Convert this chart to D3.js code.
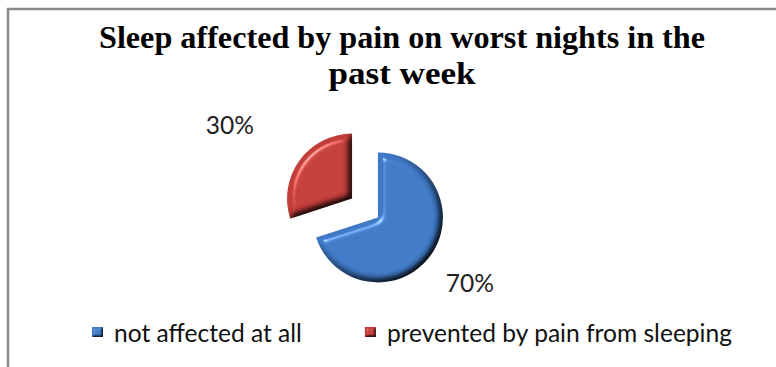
<!DOCTYPE html>
<html>
<head>
<meta charset="utf-8">
<script src="https://cdn.jsdelivr.net/npm/d3@7"></script>
<style>
  body { margin: 0; background: #fff; }
  svg { display: block; }
</style>
</head>
<body>
<svg id="chart"></svg>
<script>
// data
let categories = ['not affected at all', 'prevented by pain from sleeping']
let shares = [70, 30]
let shareLabels = ['70%', '30%']
let titleLines = ['Sleep affected by pain on worst nights in the', 'past week']

let opts = {
    width: 776,
    height: 367,
    titleX: 402,
    legendX: 412,
    pieX: 365,
    pieY: 208,
    radius: 65,
    explode: 16,
    colors: ['#3f78c4', '#c23e3b'],
    sansFont: 'Lato, "Open Sans", sans-serif',
    serifFont: '"Liberation Serif", "Times New Roman", serif'
}

let svg = d3.select('#chart')
    .attr('width', opts.width)
    .attr('height', opts.height)

// bevel look of the slices
let defs = svg.append('defs')
function bevel(id, blur, depth) {
    let f = defs.append('filter').attr('id', id)
        .attr('x', '-20%').attr('y', '-20%').attr('width', '140%').attr('height', '140%')
        .attr('color-interpolation-filters', 'sRGB')
    f.append('feGaussianBlur').attr('in', 'SourceAlpha').attr('stdDeviation', blur).attr('result', 'blur')
    f.append('feDiffuseLighting').attr('in', 'blur').attr('surfaceScale', depth)
        .attr('diffuseConstant', 1.22).attr('lighting-color', '#fff').attr('result', 'diff')
        .append('feDistantLight').attr('azimuth', 225).attr('elevation', 55)
    f.append('feComposite').attr('in', 'SourceGraphic').attr('in2', 'diff')
        .attr('operator', 'arithmetic').attr('k1', 1).attr('k2', 0).attr('k3', 0).attr('k4', 0)
        .attr('result', 'shaded')
    f.append('feSpecularLighting').attr('in', 'blur').attr('surfaceScale', depth)
        .attr('specularConstant', 0.45).attr('specularExponent', 70).attr('lighting-color', '#fff')
        .attr('result', 'spec')
        .append('feDistantLight').attr('azimuth', 225).attr('elevation', 55)
    f.append('feComposite').attr('in', 'spec').attr('in2', 'SourceAlpha').attr('operator', 'in').attr('result', 'specIn')
    f.append('feComposite').attr('in', 'shaded').attr('in2', 'specIn')
        .attr('operator', 'arithmetic').attr('k1', 0).attr('k2', 1).attr('k3', 1).attr('k4', 0)
}
bevel('bevel', 3.5, 5)
bevel('bevelSmall', 1, 2)

// frame (runs past the right and bottom edge like the crop)
svg.append('rect')
    .attr('x', 8).attr('y', 9)
    .attr('width', 900).attr('height', 500)
    .attr('fill', 'none')
    .attr('stroke', '#8a8a8a')
    .attr('stroke-width', 2.5)

// title, a tall condensed bold serif
let titleWidths = [606, 147]
svg.append('g').selectAll('text')
    .data(titleLines)
    .join('text')
    .attr('x', opts.titleX)
    .attr('y', (d, i) => 48 + i * 36)
    .attr('text-anchor', 'middle')
    .attr('font-family', opts.serifFont)
    .attr('font-weight', 'bold')
    .attr('font-size', 32)
    .attr('textLength', (d, i) => titleWidths[i])
    .attr('lengthAdjust', 'spacingAndGlyphs')
    .attr('fill', '#000')
    .text(d => d)

// pie
let pie = d3.pie().sort(null).value(d => d)
let arcs = pie(shares)
let arc = d3.arc().innerRadius(0).outerRadius(opts.radius)
let color = d3.scaleOrdinal().domain(categories).range(opts.colors)

function offset(d, dist) {
    let mid = (d.startAngle + d.endAngle) / 2
    return [Math.sin(mid) * dist, -Math.cos(mid) * dist]
}

let slices = svg.append('g')
    .attr('transform', `translate(${opts.pieX},${opts.pieY})`)
    .selectAll('g')
    .data(arcs)
    .join('g')
    .attr('transform', d => `translate(${offset(d, opts.explode)})`)

slices.append('path')
    .attr('d', arc)
    .attr('fill', (d, i) => color(categories[i]))
    .attr('filter', 'url(#bevel)')

// outside labels, placed beyond each slice along its middle angle
let labelDist = [1.75, 2.19]
let labelNudge = [[0, 0], [-7, 11]]
slices.append('text')
    .attr('x', (d, i) => offset(d, opts.radius * labelDist[i])[0] + labelNudge[i][0])
    .attr('y', (d, i) => offset(d, opts.radius * labelDist[i])[1] + labelNudge[i][1] + 8)
    .attr('text-anchor', 'middle')
    .attr('font-family', opts.sansFont)
    .attr('font-size', 24)
    .attr('fill', '#222')
    .text((d, i) => shareLabels[i])

// legend
let legend = svg.append('g')
let items = legend.selectAll('g')
    .data(categories)
    .join('g')
items.append('rect')
    .attr('width', 11).attr('height', 10)
    .attr('y', -15)
    .attr('fill', d => color(d))
    .attr('filter', 'url(#bevelSmall)')
items.append('text')
    .attr('x', 22)
    .attr('font-family', opts.sansFont)
    .attr('font-size', 24)
    .attr('fill', '#111')
    .text(d => d)

// fit the legend font so "not affected at all" spans its measured width
let firstText = items.select('text').node()
let fs = 24 * 188 / firstText.getComputedTextLength()
items.select('text').attr('font-size', fs)
slices.select('text').attr('font-size', fs)

let x = 0
items.attr('transform', function() {
    let w = 22 + this.querySelector('text').getComputedTextLength()
    let t = `translate(${x},0)`
    x += w + 63
    return t
})
let total = x - 63
legend.attr('transform', `translate(${opts.legendX - total / 2},342)`)
</script>
</body>
</html>
